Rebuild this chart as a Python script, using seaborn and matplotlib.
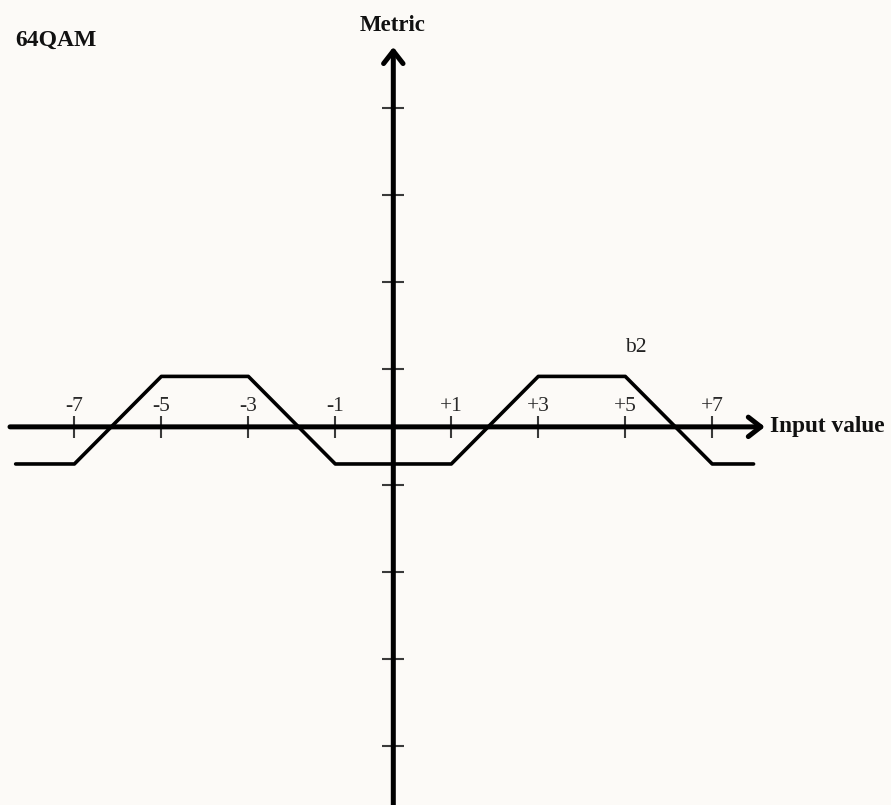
import numpy as np
import pandas as pd
import matplotlib
matplotlib.use("Agg")
import matplotlib.pyplot as plt
import seaborn as sns

# b2 soft-metric curve for 64QAM
input_pts = [-8.35, -7, -5, -3, -1, 1, 3, 5, 7, 7.95]
metric_pts = [-0.64, -0.64, 0.87, 0.87, -0.64, -0.64, 0.87, 0.87, -0.64, -0.64]

x_ticks = [-7, -5, -3, -1, 1, 3, 5, 7]
x_tick_labels = ["-7", "-5", "-3", "-1", "+1", "+3", "+5", "+7"]
y_ticks = [-7, -5, -3, -1, 1, 3, 5, 7]

BG = "#fcfaf7"

sns.set_theme(style="white")
plt.rcParams["font.family"] = ["Liberation Serif", "DejaVu Serif"]

# the axes leave a wider gap around zero than between the other levels
GAP = 1 / 3


def fwd(v):
    v = np.asarray(v, dtype=float)
    return np.where(np.abs(v) >= 1, v + np.sign(v) * GAP, v * (1 + GAP))


def inv(d):
    d = np.asarray(d, dtype=float)
    return np.where(np.abs(d) >= 1 + GAP, d - np.sign(d) * GAP, d / (1 + GAP))


fig = plt.figure(figsize=(8.91, 8.05), dpi=100, facecolor=BG)
ax = fig.add_axes([0, 0, 1, 1], facecolor=BG)

df = pd.DataFrame({"input": input_pts, "metric": metric_pts})
sns.lineplot(data=df, x="input", y="metric", ax=ax, color="black",
             lw=2.6, estimator=None, sort=False, zorder=4)

ax.set_xscale("function", functions=(fwd, inv))
ax.set_yscale("function", functions=(fwd, inv))
ax.set_xlim(-8.71, 11.11)
ax.set_ylim(-8.36, 9.48)
ax.set_xlabel("")
ax.set_ylabel("")
ax.grid(False)

# axis lines with open arrow heads
arrow = dict(arrowstyle="->,head_length=0.45,head_width=0.35", lw=3.6,
             color="black", shrinkA=0, shrinkB=0, mutation_scale=20)
ax.annotate("", xy=(8.21, 0), xytext=(-8.48, 0), arrowprops=arrow, zorder=3)
ax.annotate("", xy=(0, 8.40), xytext=(0, -8.36), arrowprops=arrow, zorder=3)

# ticks crossing the axes through the origin
for side in ("bottom", "right"):
    ax.spines[side].set_visible(False)
ax.spines["top"].set_position(("data", 0))
ax.spines["left"].set_position(("data", 0))
ax.spines["top"].set_color("none")
ax.spines["left"].set_color("none")
ax.xaxis.set_ticks_position("top")
ax.yaxis.set_ticks_position("left")
ax.set_xticks(x_ticks, x_tick_labels)
ax.set_yticks(y_ticks, [""] * len(y_ticks))
ax.minorticks_off()
ax.tick_params(axis="both", which="major", direction="inout", length=15.8,
               width=1.5, color="#3a3a3a", pad=0)
ax.tick_params(axis="x", labelsize=15.5, labelcolor="#2a2a2a")

# labels
ax.text(0.017, 0.950, "64QAM", transform=ax.transAxes, fontsize=17,
        fontweight="bold", ha="left", va="center", color="#111111")
ax.text(0.4405, 0.968, "Metric", transform=ax.transAxes, fontsize=16.5,
        fontweight="bold", ha="center", va="center", color="#111111")
ax.text(8.33, 0, "Input value", fontsize=16.8, fontweight="bold",
        ha="left", va="center", color="#111111")
ax.text(5.25, 1.5, "b2", fontsize=15.5, ha="center", va="center",
        color="#222222")

fig.savefig("out.png", dpi=100, facecolor=BG)
